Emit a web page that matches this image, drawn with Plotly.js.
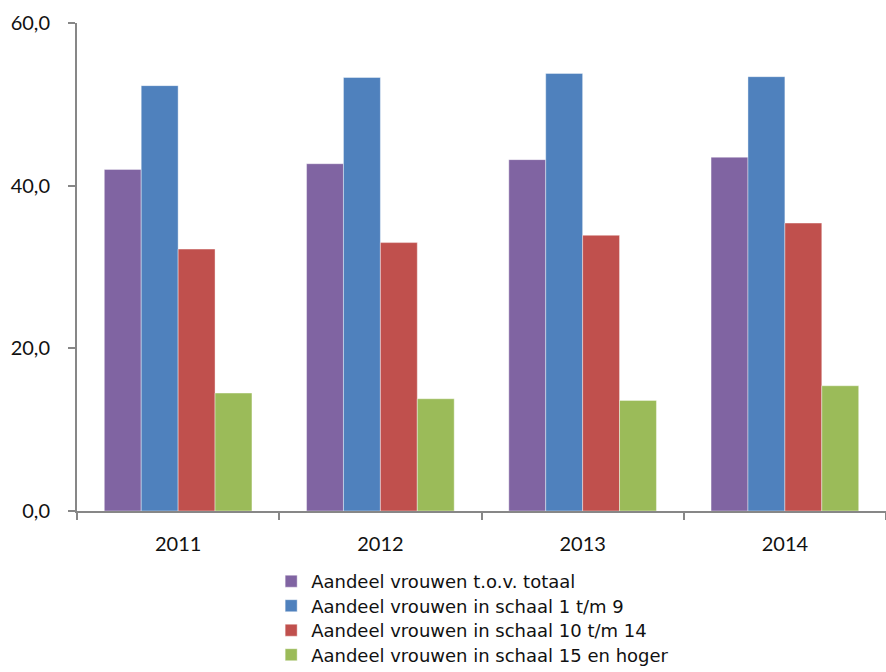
<!DOCTYPE html>
<html>
<head>
<meta charset="utf-8">
<script src="https://cdn.plot.ly/plotly-3.0.1.min.js"></script>
<style>html,body{margin:0;padding:0;background:#fff;}#chart{width:886px;height:672px;}</style>
</head>
<body>
<div id="chart"></div>
<script>
const years = ['2011', '2012', '2013', '2014'];
const seriesNames = [
  'Aandeel vrouwen t.o.v. totaal',
  'Aandeel vrouwen in schaal 1 t/m 9',
  'Aandeel vrouwen in schaal 10 t/m 14',
  'Aandeel vrouwen in schaal 15 en hoger'
];
const totaal = [42.0, 42.7, 43.2, 43.5];
const schaal1tm9 = [52.3, 53.3, 53.8, 53.4];
const schaal10tm14 = [32.2, 33.0, 33.9, 35.4];
const schaal15plus = [14.5, 13.8, 13.6, 15.4];
const colors = ['#8064a2', '#4f81bd', '#c0504d', '#9bbb59'];
const yTicks = [0, 20, 40, 60];

const values = [totaal, schaal1tm9, schaal10tm14, schaal15plus];
const legendIds = ['legend', 'legend2', 'legend3', 'legend4'];
const traces = values.map((v, i) => ({
  type: 'bar',
  name: seriesNames[i],
  x: years,
  y: v,
  legend: legendIds[i],
  marker: {color: colors[i], line: {color: 'rgba(255,255,255,0.5)', width: 0.8}},
  hoverinfo: 'none'
}));

const layout = {
  width: 886,
  height: 672,
  margin: {l: 77, r: 0, t: 23, b: 161},
  paper_bgcolor: '#ffffff',
  plot_bgcolor: '#ffffff',
  barmode: 'group',
  bargap: 0.27,
  bargroupgap: 0,
  separators: ',.',
  font: {family: 'Lato, "Open Sans", sans-serif', size: 20, color: '#111111'},
  xaxis: {
    type: 'category',
    showline: true,
    linecolor: '#878787',
    linewidth: 2,
    ticks: 'outside',
    tickson: 'boundaries',
    ticklen: 7,
    tickwidth: 2,
    tickcolor: '#878787',
    showgrid: false,
    zeroline: false,
    tickfont: {size: 20, color: '#111111'},
    ticklabelstandoff: 14
  },
  yaxis: {
    range: [0, 60],
    tickvals: yTicks,
    tickformat: '.1f',
    showline: true,
    linecolor: '#878787',
    linewidth: 2,
    ticks: 'outside',
    ticklen: 7,
    tickwidth: 2,
    tickcolor: '#878787',
    showgrid: false,
    zeroline: false,
    tickfont: {size: 20, color: '#111111'},
    ticklabelstandoff: 14
  },
  showlegend: true
};

// one legend box per row so the row spacing can match the reference
const rowTop = 563, rowStep = 24.5;
legendIds.forEach((id, i) => {
  layout[id] = {
    x: 0.24,
    xanchor: 'left',
    yref: 'container',
    y: 1 - (rowTop + i * rowStep) / 672,
    yanchor: 'top',
    orientation: 'v',
    font: {family: '"DejaVu Sans", "Open Sans", sans-serif', size: 18, color: '#111111'},
    itemwidth: 30,
    bgcolor: 'rgba(0,0,0,0)'
  };
});

Plotly.newPlot('chart', traces, layout, {displayModeBar: false, staticPlot: true});
</script>
</body>
</html>
